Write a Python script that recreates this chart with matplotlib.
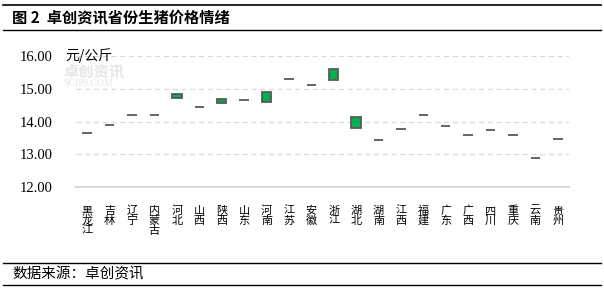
import matplotlib.pyplot as plt
import numpy as np

plt.rcParams["font.family"] = ["Noto Sans CJK SC", "DejaVu Sans"]

# -----------------------------
# Data (yuan/kg): last week vs this week
# -----------------------------
provinces = ["黑龙江", "吉林", "辽宁", "内蒙古", "河北", "山西", "陕西", "山东",
             "河南", "江苏", "安徽", "浙江", "湖北", "湖南", "江西", "福建",
             "广东", "广西", "四川", "重庆", "云南", "贵州"]
price_start = [13.65, 13.89, 14.20, 14.20, 14.85, 14.44, 14.70, 14.67,
               14.90, 15.30, 15.11, 15.60, 14.14, 13.45, 13.78, 14.21,
               13.88, 13.58, 13.75, 13.58, 12.89, 13.48]
price_end = [13.65, 13.89, 14.20, 14.20, 14.73, 14.44, 14.58, 14.67,
             14.59, 15.30, 15.11, 15.28, 13.82, 13.45, 13.78, 14.21,
             13.88, 13.58, 13.75, 13.58, 12.89, 13.48]

W, H = 604, 291
fig = plt.figure(figsize=(W / 100, H / 100), dpi=100)
ax = fig.add_axes([76 / W, 1 - 187.3 / H, (569 - 76) / W, (187.3 - 56) / H])

x = np.arange(len(provinces))
lo = np.minimum(price_start, price_end)
hi = np.maximum(price_start, price_end)

ax.bar(x, hi - lo, bottom=lo, width=0.42, color="#00b050",
       edgecolor="#595959", linewidth=1.3, zorder=3)

# -----------------------------
# Formatting
# -----------------------------
ax.set_xlim(-0.5, len(provinces) - 0.5)
ax.set_ylim(12, 16)
ax.set_yticks([12, 13, 14, 15, 16])
ax.set_yticklabels(["12.00", "13.00", "14.00", "15.00", "16.00"],
                   family=["Liberation Serif", "DejaVu Serif"], fontsize=10.5)
ax.set_xticks(x)
ax.set_xticklabels([])
ax.tick_params(axis="y", length=0, pad=17)
ax.tick_params(axis="x", length=0)

# vertical (stacked) category labels, one character per row
for i, name in enumerate(provinces):
    for j, ch in enumerate(name):
        ax.annotate(ch, xy=(i, 0), xycoords=("data", "axes fraction"),
                    xytext=(0, -17 - 7.2 * j), textcoords="offset points",
                    ha="center", va="center", fontsize=8)

for s in ["top", "right", "left"]:
    ax.spines[s].set_visible(False)
ax.spines["bottom"].set_color("#d9d9d9")
ax.spines["bottom"].set_linewidth(1.5)

for v in [13, 14, 15, 16]:
    ax.axhline(v, color="#d9d9d9", linestyle=(0, (4, 3)), linewidth=0.9, zorder=0)

# watermark
fig.text(63 / W, 1 - 71 / H, "卓创资讯", fontsize=11, color="#e6e6e6",
         va="center", ha="left", fontweight="bold", zorder=0)
fig.text(63 / W, 1 - 84 / H, "SCI99.COM", fontsize=7, color="#e6e6e6",
         va="center", ha="left", family="Liberation Serif", zorder=0)

# unit label
fig.text(65 / W, 1 - 56 / H, "元/公斤", fontsize=10, va="center", ha="left")

# title and footer
fig.text(12 / W, 1 - 17 / H, "图 2  卓创资讯省份生猪价格情绪", fontsize=11,
         fontweight="bold", va="center", ha="left")
fig.add_artist(plt.Line2D([0.005, 0.995], [1 - 5 / H, 1 - 5 / H], color="black", linewidth=1.2))
fig.add_artist(plt.Line2D([0.005, 0.995], [1 - 30 / H, 1 - 30 / H], color="black", linewidth=1.0))
fig.add_artist(plt.Line2D([0.005, 0.995], [1 - 263 / H, 1 - 263 / H], color="black", linewidth=1.0))
fig.add_artist(plt.Line2D([0.005, 0.995], [1 - 285 / H, 1 - 285 / H], color="black", linewidth=1.0))
fig.text(12 / W, 1 - 274 / H, "数据来源：卓创资讯", fontsize=10.5, va="center", ha="left")

fig.savefig("out.png", dpi=100)
